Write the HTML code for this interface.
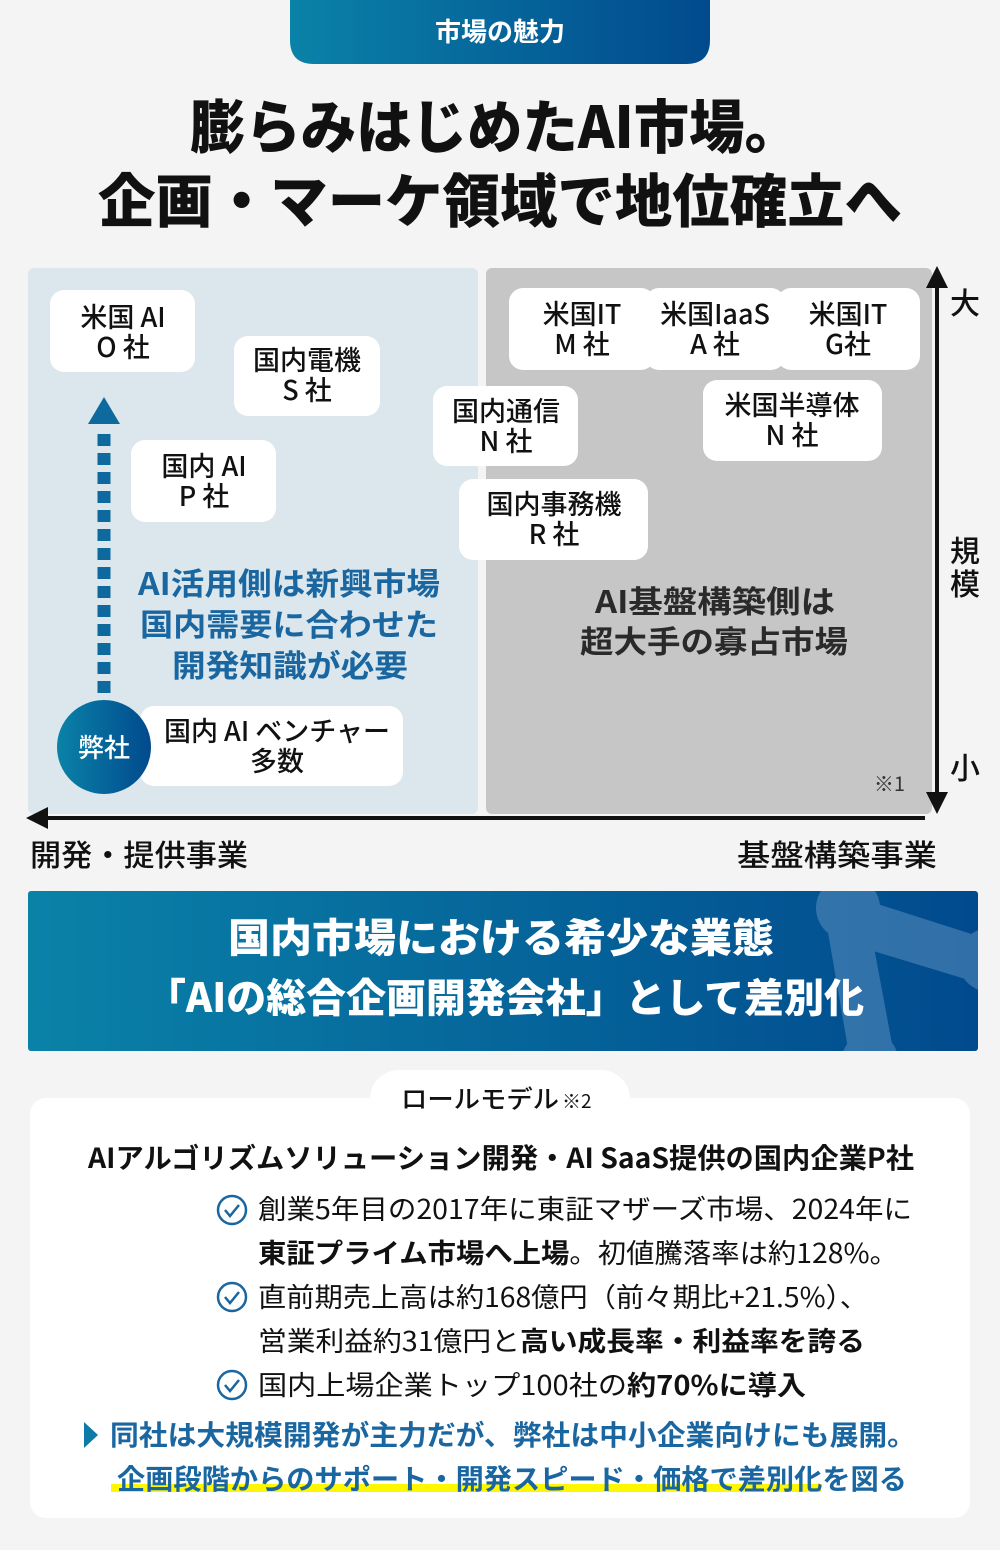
<!DOCTYPE html>
<html><head><meta charset="utf-8"><style>
html,body{margin:0;padding:0;background:#f4f4f4;}
svg{display:block;font-family:"Liberation Sans","Noto Sans CJK JP",sans-serif;}
</style></head><body>
<svg width="1000" height="1550" viewBox="0 0 1000 1550" xmlns="http://www.w3.org/2000/svg">
<defs>
<linearGradient id="g" x1="0" x2="1" y1="0" y2="0"><stop offset="0" stop-color="#0a82a8"/><stop offset="1" stop-color="#014a8d"/></linearGradient>
<clipPath id="bc"><rect x="28" y="891" width="950" height="160" rx="3"/></clipPath>
</defs>
<rect width="1000" height="1550" fill="#f4f4f4"/>
<path d="M290 0 H710 V40 Q710 64 686 64 H314 Q290 64 290 40 Z" fill="url(#g)"/>
<text x="500" y="41" font-size="26" font-weight="700" fill="#fff" text-anchor="middle" font-family="Noto Sans CJK JP,sans-serif">市場の魅力</text>
<text x="190" y="148" font-size="58" font-weight="900" fill="#111" textLength="610" lengthAdjust="spacingAndGlyphs" font-family="Noto Sans CJK JP,sans-serif">膨らみはじめたAI市場。</text>
<text x="98" y="222" font-size="58" font-weight="900" fill="#111" textLength="804" lengthAdjust="spacingAndGlyphs" font-family="Noto Sans CJK JP,sans-serif">企画・マーケ領域で地位確立へ</text>
<rect x="28" y="268" width="450" height="546" rx="6" fill="#dbe7ec"/>
<rect x="486" y="268" width="446" height="546" rx="6" fill="#c6c6c6"/>
<line x1="40" y1="818" x2="925" y2="818" stroke="#111" stroke-width="4"/>
<polygon points="26,818 48,807 48,829" fill="#111"/>
<line x1="937" y1="280" x2="937" y2="800" stroke="#111" stroke-width="4"/>
<polygon points="937,266 926,288 948,288" fill="#111"/>
<polygon points="937,814 926,792 948,792" fill="#111"/>
<g font-family="Noto Sans CJK JP,sans-serif" fill="#111" font-size="30" font-weight="500">
<text x="965" y="314" text-anchor="middle">大</text>
<text x="965" y="562" text-anchor="middle">規</text>
<text x="965" y="595" text-anchor="middle">模</text>
<text x="965" y="779" text-anchor="middle">小</text>
<text x="30" y="866" textLength="218" lengthAdjust="spacingAndGlyphs">開発・提供事業</text>
<text x="737" y="866" textLength="200" lengthAdjust="spacingAndGlyphs">基盤構築事業</text>
<text x="905" y="791" font-size="20" font-weight="400" text-anchor="end" fill="#333">※1</text>
</g>
<g fill="#fff">
<rect x="50" y="290" width="145" height="82" rx="14"/>
<rect x="234" y="336" width="146" height="80" rx="14"/>
<rect x="131" y="440" width="145" height="82" rx="14"/>
<rect x="433" y="386" width="145" height="80" rx="14"/>
<rect x="459" y="479" width="189" height="81" rx="14"/>
<rect x="509" y="288" width="146" height="82" rx="14"/>
<rect x="645" y="288" width="140" height="82" rx="14"/>
<rect x="777" y="288" width="143" height="82" rx="14"/>
<rect x="703" y="380" width="179" height="81" rx="14"/>
<rect x="140" y="706" width="263" height="80" rx="14"/>
</g>
<g font-family="Noto Sans CJK JP,sans-serif" fill="#111" font-size="27" font-weight="500" text-anchor="middle">
<text x="123" y="327">米国 AI</text><text x="123" y="357">O 社</text>
<text x="307" y="370">国内電機</text><text x="307" y="400">S 社</text>
<text x="204" y="476">国内 AI</text><text x="204" y="506">P 社</text>
<text x="506" y="421">国内通信</text><text x="506" y="451">N 社</text>
<text x="554" y="514">国内事務機</text><text x="554" y="544">R 社</text>
<text x="582" y="324">米国IT</text><text x="582" y="354">M 社</text>
<text x="715" y="324">米国IaaS</text><text x="715" y="354">A 社</text>
<text x="848" y="324">米国IT</text><text x="848" y="354">G社</text>
<text x="792" y="415">米国半導体</text><text x="792" y="445">N 社</text>
<text x="277" y="741">国内 AI ベンチャー</text><text x="277" y="771">多数</text>
</g>
<line x1="104" y1="434" x2="104" y2="700" stroke="#0e6a9e" stroke-width="13" stroke-dasharray="12,7"/>
<polygon points="104,397 88,424 120,424" fill="#0e6a9e"/>
<circle cx="104" cy="747" r="47" fill="url(#g)"/>
<text x="104" y="757" font-size="26" font-weight="500" fill="#fff" text-anchor="middle" font-family="Noto Sans CJK JP,sans-serif">弊社</text>
<g font-family="Noto Sans CJK JP,sans-serif" font-weight="700" font-size="31" fill="#1a66a0">
<text x="138" y="595" textLength="302" lengthAdjust="spacingAndGlyphs">AI活用側は新興市場</text>
<text x="140" y="636" textLength="298" lengthAdjust="spacingAndGlyphs">国内需要に合わせた</text>
<text x="172" y="677" textLength="236" lengthAdjust="spacingAndGlyphs">開発知識が必要</text>
</g>
<g font-family="Noto Sans CJK JP,sans-serif" font-weight="700" font-size="31" fill="#2a2a2a">
<text x="595" y="613" textLength="240" lengthAdjust="spacingAndGlyphs">AI基盤構築側は</text>
<text x="580" y="653" textLength="268" lengthAdjust="spacingAndGlyphs">超大手の寡占市場</text>
</g>
<rect x="28" y="891" width="950" height="160" rx="3" fill="url(#g)"/>
<g fill="#5a8fc0" opacity="0.55" clip-path="url(#bc)">
<circle cx="848" cy="908" r="32"/><circle cx="990" cy="960" r="32"/><circle cx="870" cy="1060" r="28"/>
<path d="M835 920 L865 900 L990 940 L985 985 L870 950 Z"/><path d="M825 915 L868 915 L895 1060 L850 1060 Z"/>
</g>
<g font-family="Noto Sans CJK JP,sans-serif" font-weight="900" font-size="40" fill="#fff">
<text x="228" y="952" textLength="546" lengthAdjust="spacingAndGlyphs">国内市場における希少な業態</text>
<text x="146" y="1012" textLength="718" lengthAdjust="spacingAndGlyphs">「AIの総合企画開発会社」として差別化</text>
</g>
<rect x="30" y="1098" width="940" height="420" rx="16" fill="#fff"/>
<rect x="370" y="1070" width="260" height="58" rx="29" fill="#fff"/>
<text x="401" y="1108" font-size="25" font-weight="500" fill="#111" font-family="Noto Sans CJK JP,sans-serif" textLength="158" lengthAdjust="spacingAndGlyphs">ロールモデル</text>
<text x="562" y="1108" font-size="19" fill="#111" font-family="Noto Sans CJK JP,sans-serif">※2</text>
<g font-family="Noto Sans CJK JP,sans-serif" fill="#111">
<text x="88" y="1168" font-size="28" font-weight="700" textLength="826" lengthAdjust="spacingAndGlyphs">AIアルゴリズムソリューション開発・AI SaaS提供の国内企業P社</text>
<text x="258" y="1219" font-size="27" textLength="654" lengthAdjust="spacingAndGlyphs">創業5年目の2017年に東証マザーズ市場、2024年に</text>
<text x="258" y="1263" font-size="27" textLength="640" lengthAdjust="spacingAndGlyphs"><tspan font-weight="700">東証プライム市場へ上場</tspan>。初値騰落率は約128%。</text>
<text x="258" y="1307" font-size="27" textLength="610" lengthAdjust="spacingAndGlyphs">直前期売上高は約168億円（前々期比+21.5%）、</text>
<text x="258" y="1351" font-size="27" textLength="607" lengthAdjust="spacingAndGlyphs">営業利益約31億円と<tspan font-weight="700">高い成長率・利益率を誇る</tspan></text>
<text x="258" y="1395" font-size="27" textLength="548" lengthAdjust="spacingAndGlyphs">国内上場企業トップ100社の<tspan font-weight="700">約70%に導入</tspan></text>
</g>
<g fill="none" stroke="#1a66a0" stroke-width="2.5">
<circle cx="232" cy="1210" r="14"/><circle cx="232" cy="1297" r="14"/><circle cx="232" cy="1385" r="14"/>
<path d="M225 1210 l5 6 l9 -11"/><path d="M225 1297 l5 6 l9 -11"/><path d="M225 1385 l5 6 l9 -11"/>
</g>
<rect x="111" y="1484" width="710" height="8" fill="#fff700"/>
<polygon points="84,1422 98,1435 84,1448" fill="#0e7aa8"/>
<g font-family="Noto Sans CJK JP,sans-serif" font-weight="700" font-size="28" fill="#1a66a0">
<text x="110" y="1445" textLength="806" lengthAdjust="spacingAndGlyphs">同社は大規模開発が主力だが、弊社は中小企業向けにも展開。</text>
<text x="117" y="1489" textLength="790" lengthAdjust="spacingAndGlyphs">企画段階からのサポート・開発スピード・価格で差別化を図る</text>
</g>
</svg>
</body></html>
